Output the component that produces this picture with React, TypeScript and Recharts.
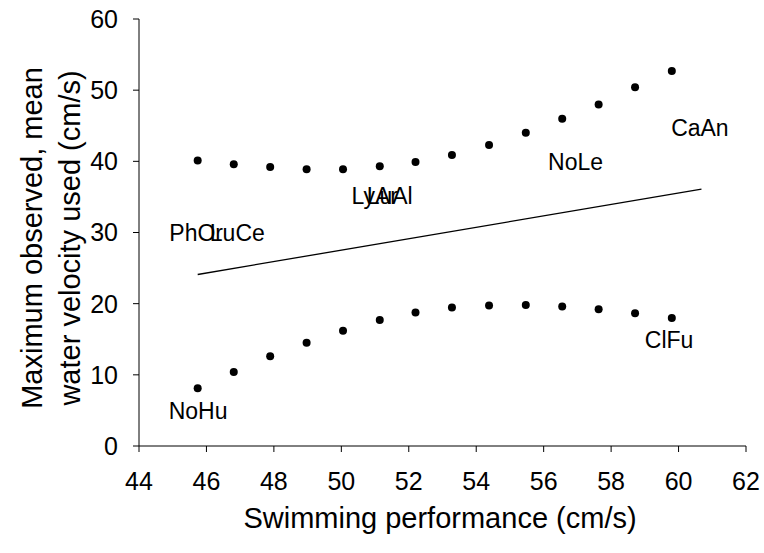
import React from "react";
import { ComposedChart, Line, Scatter, XAxis, YAxis } from "recharts";

const performance = [45.74, 46.81, 47.89, 48.97, 50.05, 51.14, 52.2, 53.28, 54.38, 55.47, 56.55, 57.63, 58.71, 59.8];
const upperBand = [40.1, 39.6, 39.2, 38.9, 38.9, 39.3, 39.9, 40.9, 42.3, 44.0, 46.0, 48.0, 50.4, 52.7];
const lowerBand = [8.1, 10.4, 12.6, 14.5, 16.2, 17.7, 18.75, 19.45, 19.75, 19.8, 19.6, 19.2, 18.65, 18.0];

const fitX = [45.74, 60.68];
const fitY = [24.1, 36.1];

const speciesCodes = ["PhOr", "LuCe", "LyAr", "LuAl", "NoHu", "ClFu", "NoLe", "CaAn"];
const speciesX = [44.9, 46.1, 50.3, 50.75, 44.88, 59.0, 56.13, 59.78];
const speciesY = [29.9, 29.9, 35.1, 35.1, 4.9, 14.9, 39.9, 44.7];

const xTicks = [44, 46, 48, 50, 52, 54, 56, 58, 60, 62];
const yTicks = [0, 10, 20, 30, 40, 50, 60];

const FONT = "'Liberation Sans', Arial, sans-serif";

const upperData = performance.map((x, i) => ({ x, y: upperBand[i] }));
const lowerData = performance.map((x, i) => ({ x, y: lowerBand[i] }));
const fitData = fitX.map((x, i) => ({ x, y: fitY[i] }));
const labelData = speciesCodes.map((name, i) => ({ x: speciesX[i], y: speciesY[i], name }));

function Dot(props: any) {
  return <circle cx={props.cx} cy={props.cy} r={4} fill="#000" />;
}

function SpeciesLabel(props: any) {
  return (
    <text x={props.cx} y={props.cy} dominantBaseline="central" fontSize={23} fontFamily={FONT} fill="#000">
      {props.payload.name}
    </text>
  );
}

function YTitle() {
  return (
    <g fontFamily={FONT} fontSize={29} fill="#000">
      <text x={32} y={238} transform="rotate(-90 32 238)" textAnchor="middle" dominantBaseline="central">
        Maximum observed, mean
      </text>
      <text x={70} y={238} transform="rotate(-90 70 238)" textAnchor="middle" dominantBaseline="central">
        water velocity used (cm/s)
      </text>
    </g>
  );
}

function XTitle() {
  return (
    <text x={440} y={518} textAnchor="middle" dominantBaseline="central" fontFamily={FONT} fontSize={29} fill="#000">
      Swimming performance (cm/s)
    </text>
  );
}

export default function App() {
  return (
    <div style={{ position: "absolute", left: 0, top: 0, background: "#fff" }}>
      <ComposedChart width={764} height={553} margin={{ top: 19, right: 18, bottom: 0, left: 0 }}>
        <XAxis
          xAxisId="bottom"
          dataKey="x"
          type="number"
          domain={[44, 62]}
          ticks={xTicks}
          height={107}
          tickSize={6}
          tickMargin={20}
          stroke="#000"
          tick={{ fill: "#000", fontSize: 25, fontFamily: FONT }}
          label={{ content: () => <XTitle /> }}
        />
        <XAxis xAxisId="top" orientation="top" type="number" domain={[44, 62]} height={0} tick={false} tickLine={false} stroke="#000" />
        <YAxis
          yAxisId="left"
          dataKey="y"
          type="number"
          domain={[0, 60]}
          ticks={yTicks}
          width={139}
          tickSize={6}
          tickMargin={15}
          stroke="#000"
          tick={{ fill: "#000", fontSize: 25, fontFamily: FONT }}
          label={{ content: () => <YTitle /> }}
        />
        <YAxis yAxisId="right" orientation="right" type="number" domain={[0, 60]} width={0} tick={false} tickLine={false} stroke="#808080" strokeWidth={2} />
        <Line
          xAxisId="bottom"
          yAxisId="left"
          data={fitData}
          dataKey="y"
          type="linear"
          stroke="#000"
          strokeWidth={1.3}
          dot={false}
          activeDot={false}
          isAnimationActive={false}
        />
        <Scatter xAxisId="bottom" yAxisId="left" data={upperData} shape={<Dot />} isAnimationActive={false} />
        <Scatter xAxisId="bottom" yAxisId="left" data={lowerData} shape={<Dot />} isAnimationActive={false} />
        <Scatter xAxisId="bottom" yAxisId="left" data={labelData} shape={<SpeciesLabel />} isAnimationActive={false} />
      </ComposedChart>
    </div>
  );
}
